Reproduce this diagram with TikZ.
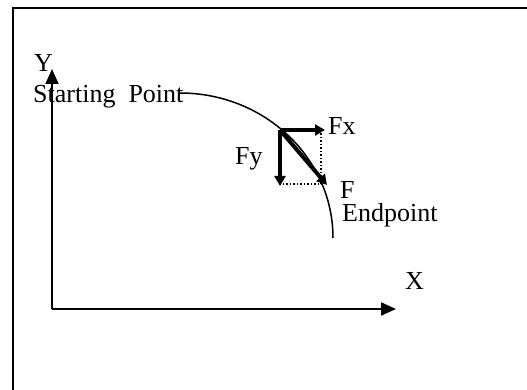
\documentclass[tikz,border=0pt]{standalone}
\usepackage{fontspec}
\setmainfont{Liberation Serif}
\usetikzlibrary{arrows.meta}
\begin{document}
\begin{tikzpicture}[x=1pt,y=-1pt,
  lbl/.style={inner sep=0pt,anchor=base west,font=\fontsize{26}{30}\selectfont},
  axis/.style={line width=2pt,-{Triangle[length=15pt,width=13pt]}},
  force/.style={line width=4pt,-{Triangle[length=10pt,width=11pt]}},
  guide/.style={line width=1.5pt,dotted},
  frame/.style={line width=2pt}]
\useasboundingbox (0,0) rectangle (527,390);
% frame
\draw[frame] (13,400) -- (13,8) -- (540,8);
% axes
\coordinate (orig) at (52,309);
\coordinate (ytip) at (52,69);
\coordinate (xtip) at (396,309);
\draw[axis] (orig) -- (ytip);
\draw[axis] (orig) -- (xtip);
% labels
\node[lbl] (Y) at (34,72) {Y};
\node[lbl] (X) at (405,289) {X};
\node[lbl] (SP) at (33,103) {Starting\ \ Point};
\node[lbl] (Fx) at (328,135) {Fx};
\node[lbl] (Fy) at (235,165) {Fy};
\node[lbl] (F) at (340,198) {F};
\node[lbl] (EP) at (342,221) {Endpoint};
% path curve
\coordinate (cs) at (180,93);
\draw[line width=1.5pt] (cs) arc[start angle=-90,end angle=0,x radius=153,y radius=145];
% force components
\coordinate (P) at (280,130);
\coordinate (Px) at (325,130);
\coordinate (Py) at (280,186);
\coordinate (Pf) at (327,185);
\coordinate (Cx) at (321,130);
\coordinate (Cc) at (321,184);
\coordinate (Cy) at (280,184);
\draw[guide] (Cx) -- (Cc) -- (Cy);
\draw[force] (P) -- (Px);
\draw[force] (P) -- (Py);
\draw[force] (P) -- (Pf);
\end{tikzpicture}
\end{document}
